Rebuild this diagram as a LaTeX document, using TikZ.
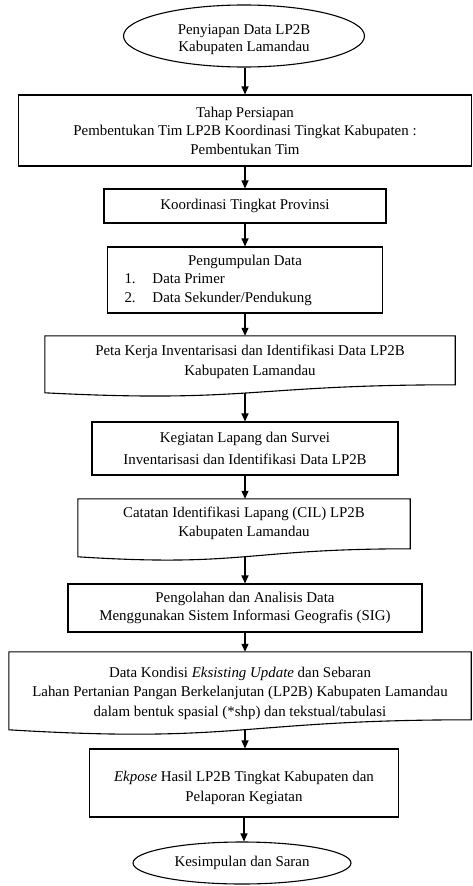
\documentclass[tikz,border=0pt]{standalone}
\usepackage{fontspec}
\setmainfont{Liberation Serif}
\usetikzlibrary{arrows.meta,calc,shapes.geometric}

\newcommand{\flowfont}[1]{\fontsize{14.9}{#1}\selectfont}
% centred lines set a little lower than the middle of their node
\newcommand{\lowered}[2]{\raisebox{0pt}[\dimexpr\height+#1\relax][\depth]{\begin{tabular}{@{}c@{}}#2\end{tabular}}}

\begin{document}
\begin{tikzpicture}[x=1pt,y=-1pt,
  every node/.style={font=\flowfont{18.5}, inner sep=0pt, align=center},
  outline/.style={draw, line width=1.1pt},
  box/.style={outline, rectangle},
  terminal/.style={outline, ellipse},
  doctext/.style={rectangle},
  arr/.style={line width=1.1pt, -{Triangle[length=8pt,width=7pt]}}
]
\useasboundingbox (0,0) rectangle (472,886);

% start / end terminals
\node[terminal, minimum width=241pt, minimum height=62pt, font=\flowfont{17}] (start) at (244,36)
  {\lowered{8pt}{Penyiapan Data LP2B\\Kabupaten Lamandau}};

\node[box, minimum width=453pt, minimum height=71pt] (prep) at (245,130.5)
  {Tahap Persiapan\\Pembentukan Tim LP2B Koordinasi Tingkat Kabupaten :\\Pembentukan Tim};

\node[box, minimum width=282pt, minimum height=34pt] (prov) at (245,206)
  {Koordinasi Tingkat Provinsi};

\node[box, minimum width=275pt, minimum height=66pt] (collect) at (245,280)
  {\begin{minipage}{275pt}\centering Pengumpulan Data\par
   \raggedright\hspace*{17pt}\makebox[28pt][l]{1.}Data Primer\par
   \hspace*{17pt}\makebox[28pt][l]{2.}Data Sekunder/Pendukung\end{minipage}};

% document shape: work map
\node[doctext, minimum width=410pt, minimum height=52pt, font=\flowfont{20}] (map) at (250,362)
  {Peta Kerja Inventarisasi dan Identifikasi Data LP2B\\Kabupaten Lamandau};
\draw[outline] (map.north west) -- (map.north east) -- ++(0,49)
  .. controls ($(map.north)+(0,49)$) and ($(map.north)+(0,67.5)$) .. coordinate[pos=.5] (mapw)
  ($(map.north west)+(0,57)$) -- cycle;

\node[box, minimum width=306pt, minimum height=53pt, font=\flowfont{22}] (survey) at (245,448.5)
  {Kegiatan Lapang dan Survei\\Inventarisasi dan Identifikasi Data LP2B};

% document shape: field notes
\node[doctext, minimum width=332pt, minimum height=49pt, font=\flowfont{19}] (cil) at (244,523.5)
  {Catatan Identifikasi Lapang (CIL) LP2B\\Kabupaten Lamandau};
\draw[outline] (cil.north west) -- (cil.north east) -- ++(0,50)
  .. controls ($(cil.north)+(0,50)$) and ($(cil.north)+(0,68.6)$) .. coordinate[pos=.5] (cilw)
  ($(cil.north west)+(0,58)$) -- cycle;

\node[box, minimum width=354pt, minimum height=48pt] (proc) at (245,608)
  {Pengolahan dan Analisis Data\\Menggunakan Sistem Informasi Geografis (SIG)};

% document shape: results
\node[doctext, minimum width=462pt, minimum height=82pt, font=\flowfont{19.5}] (result) at (240,693)
  {Data Kondisi \textit{Eksisting Update} dan Sebaran\\
   Lahan Pertanian Pangan Berkelanjutan (LP2B) Kabupaten Lamandau\\
   dalam bentuk spasial (*shp) dan tekstual/tabulasi};
\draw[outline] (result.north west) -- (result.north east) -- ++(0,68)
  .. controls ($(result.north)+(0,68)$) and ($(result.north)+(0,92)$) .. coordinate[pos=.5] (resultw)
  ($(result.north west)+(0,78)$) -- cycle;

\node[box, minimum width=309pt, minimum height=68pt, font=\flowfont{20}] (expose) at (244,783)
  {\lowered{8pt}{\textit{Ekpose} Hasil LP2B Tingkat Kabupaten dan\\Pelaporan Kegiatan}};

\node[terminal, minimum width=218pt, minimum height=42pt] (finish) at (242,863)
  {Kesimpulan dan Saran};

% connectors
\draw[arr] (start.south -| prep.north) -- (prep.north);
\draw[arr] (prep.south) -- (prov.north);
\draw[arr] (prov.south) -- (collect.north);
\draw[arr] (collect.south) -- (collect.south |- map.north);
\draw[arr] (mapw -| survey.north) -- (survey.north);
\draw[arr] (survey.south) -- (survey.south |- cil.north);
\draw[arr] (cilw -| proc.north) -- (proc.north);
\draw[arr] (proc.south) -- (proc.south |- result.north);
\draw[arr] (resultw -| proc.north) -- (proc.north |- expose.north);
\draw[arr] (expose.south) -- (expose.south |- finish.north);
\end{tikzpicture}
\end{document}
